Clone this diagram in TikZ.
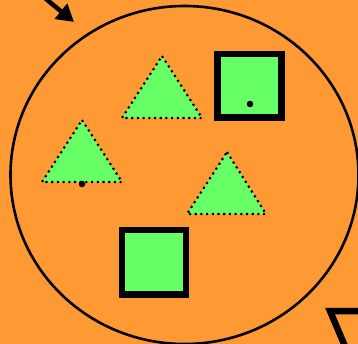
\documentclass[tikz,border=0pt]{standalone}
\usetikzlibrary{arrows.meta}
\definecolor{bgorange}{RGB}{255,153,51}
\definecolor{shapegreen}{RGB}{102,255,102}
\tikzset{
  tri/.style={fill=shapegreen, draw=black, line width=2.1pt, dash pattern=on 2.1pt off 3.6pt},
  sq/.style={fill=shapegreen, draw=black, line width=6.5pt, line join=miter},
  dotmark/.style={fill=black},
}
\begin{document}
\begin{tikzpicture}[x=1pt,y=-1pt]
\useasboundingbox (0,0) rectangle (358,344);
\clip (0,0) rectangle (358,344);
\fill[bgorange] (0,0) rectangle (358,344);
% big ellipse
\draw[line width=2.6pt] (184.5,175) ellipse [x radius=174, y radius=169];
% triangles
\draw[tri] (162,56) -- (202,118) -- (122,118) -- cycle;
\draw[tri] (82,120) -- (122,182) -- (42,182) -- cycle;
\draw[tri] (227,152) -- (266,214) -- (187,214) -- cycle;
% squares
\draw[sq] (217.5,54) rectangle (281.5,117.5);
\draw[sq] (122,230) rectangle (186,294.5);
% dots
\fill[dotmark] (82,184) circle (3.3);
\fill[dotmark] (250,104) circle (3.3);
% arrow
\coordinate (arrowstart) at (40,-6);
\coordinate (arrowtip) at (74,22);
\draw[line width=4.5pt, -{Triangle[length=17pt,width=19pt]}] (arrowstart) -- (arrowtip);
% partial triangle bottom right
\draw[line width=6.5pt, line join=miter, fill=bgorange] (380,311) -- (330,311) -- (350,358);
\end{tikzpicture}
\end{document}
